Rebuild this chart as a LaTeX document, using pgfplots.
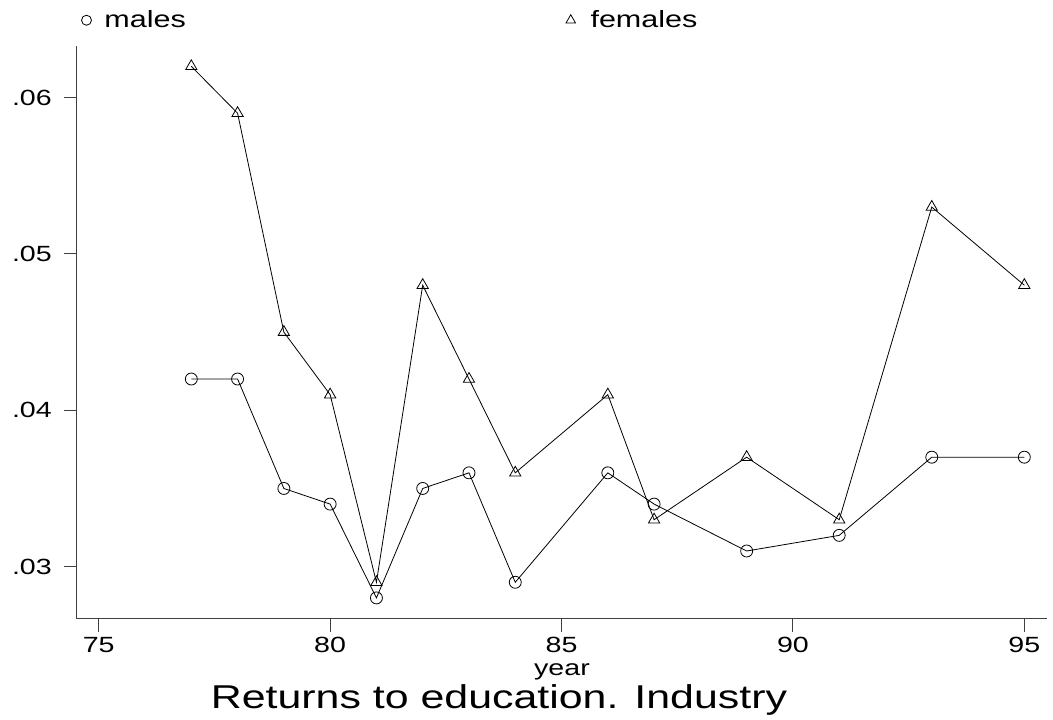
\documentclass[border=0pt]{standalone}
\usepackage{fontspec}
\setmainfont{Liberation Sans}[FakeStretch=1.3]
\usepackage{pgfplots}
\pgfplotsset{compat=1.18}
\begin{document}
\begin{tikzpicture}
\path[use as bounding box] (-77bp,-101.3bp) rectangle (976bp,618.7bp);
\begin{axis}[
  scale only axis, width=970bp, height=572.7bp,
  xmin=74.53, xmax=95.49, ymin=0.02667, ymax=0.0633,
  axis x line*=bottom, axis y line*=left,
  axis line style={line width=1bp, black!75},
  xtick={75,80,85,90,95}, xticklabels={75,80,85,90,95},
  ytick={0.03,0.04,0.05,0.06}, yticklabels={.03,.04,.05,.06},
  scaled y ticks=false, scaled x ticks=false,
  tick align=outside, major tick length=13bp,
  every tick/.style={line width=1bp, black!75},
  /pgf/number format/assume math mode=true,
  ticklabel style={font=\fontsize{22bp}{26bp}\selectfont},
  xticklabel style={inner sep=0pt, yshift=-5bp},
  yticklabel style={inner sep=0pt, xshift=-12bp},
  xlabel={year},
  xlabel style={font=\fontsize{22bp}{26bp}\selectfont, at={(axis description cs:0.5,0)}, anchor=base, yshift=-56.5bp},
  title={Returns to education. Industry},
  title style={font=\fontsize{33bp}{38bp}\selectfont, at={(axis description cs:0.435,0)}, anchor=base, yshift=-96bp},
  legend columns=2,
  legend image code/.code={\draw[#1] plot coordinates {(0bp,0bp)};},
  legend style={draw=none, fill=none, inner sep=0pt, outer sep=0pt,
    at={(axis description cs:0,1)}, anchor=south west, xshift=4.5bp, yshift=16.5bp,
    font=\fontsize{23.5bp}{28bp}\selectfont, nodes={inner sep=0pt},
    /tikz/column 1/.style={column sep=13bp},
    /tikz/column 2/.style={column sep=380bp},
    /tikz/column 3/.style={column sep=15bp}},
]
\addlegendimage{black, line width=0.8bp, mark=o, mark size=5bp}
\addlegendentry{males}
\addlegendimage{black, line width=0.8bp, mark=triangle, mark size=5.5bp}
\addlegendentry{females}
\addplot[forget plot, black, line width=0.8bp, mark=o, mark size=6bp] coordinates {
(77,0.042) (78,0.042) (79,0.035) (80,0.034) (81,0.028) (82,0.035) (83,0.036)
(84,0.029) (86,0.036) (87,0.034) (89,0.031) (91,0.032) (93,0.037) (95,0.037)};
\addplot[forget plot, black, line width=0.8bp, mark=triangle, mark size=6.5bp] coordinates {
(77,0.062) (78,0.059) (79,0.045) (80,0.041) (81,0.029) (82,0.048) (83,0.042)
(84,0.036) (86,0.041) (87,0.033) (89,0.037) (91,0.033) (93,0.053) (95,0.048)};
\end{axis}
\end{tikzpicture}
\end{document}
